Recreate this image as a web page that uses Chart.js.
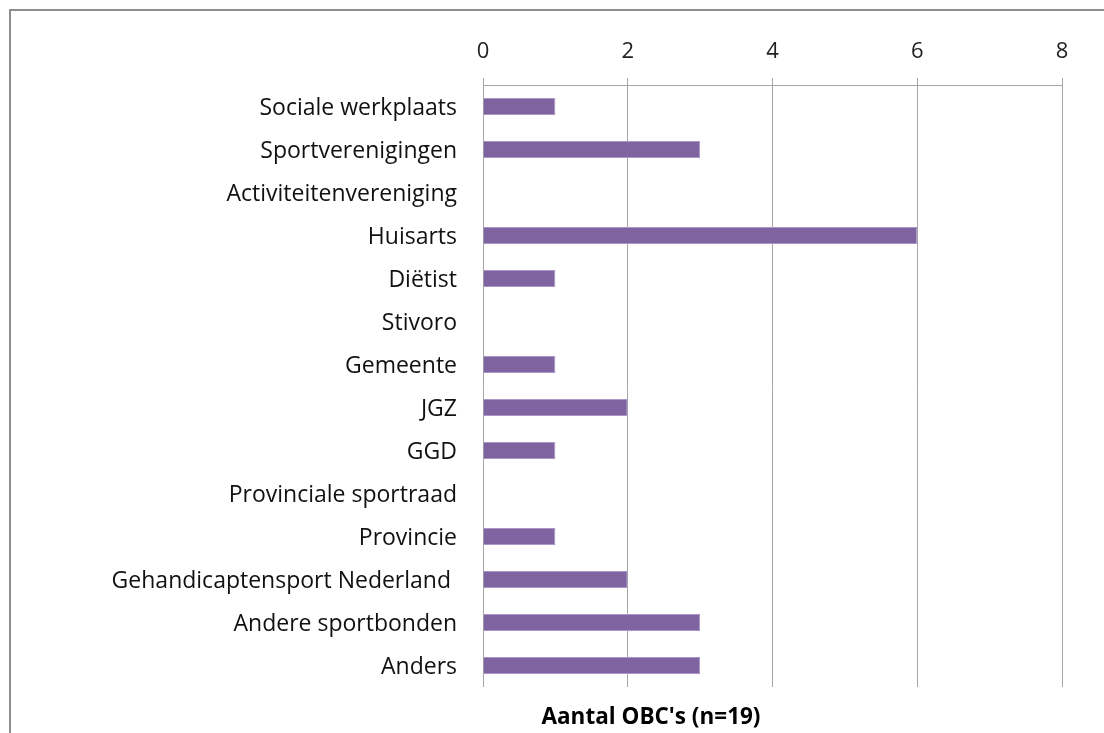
<!DOCTYPE html>
<html>
<head>
<meta charset="utf-8">
<script src="https://cdn.jsdelivr.net/npm/chart.js@4.4.0/dist/chart.umd.min.js"></script>
<style>
  html, body { margin: 0; padding: 0; background: #fff; }
  #wrap { position: relative; width: 1104px; height: 733px; overflow: hidden; }
  #frame {
    position: absolute; left: 9px; top: 9px; width: 1200px; height: 800px;
    border-left: 2px solid #8e8e8e; border-top: 2px solid #8e8e8e;
  }
  canvas { position: absolute; left: 0; top: 0; }
</style>
</head>
<body>
<div id="wrap">
  <div id="frame"></div>
  <canvas id="chart" width="1104" height="733"></canvas>
</div>
<script>
// categories top to bottom
const categories = [
    'Sociale werkplaats',
    'Sportverenigingen',
    'Activiteitenvereniging',
    'Huisarts',
    'Diëtist',
    'Stivoro',
    'Gemeente',
    'JGZ',
    'GGD',
    'Provinciale sportraad',
    'Provincie',
    'Gehandicaptensport Nederland ',
    'Andere sportbonden',
    'Anders',
];
const counts = [1, 3, 0, 6, 1, 0, 1, 2, 1, 0, 1, 2, 3, 3];
const xTicks = [0, 2, 4, 6, 8];
const axisTitle = "Aantal OBC's (n=19)";

const FONT = "'Open Sans', 'Noto Sans', sans-serif";
const GRID = '#a6a6a6';

// bold axis title under the plot, offset left like the original
const bottomTitle = {
    id: 'bottomTitle',
    afterDraw(chart) {
        const { ctx, chartArea } = chart;
        ctx.save();
        ctx.font = `bold 22.5px ${FONT}`;
        ctx.fillStyle = '#000';
        ctx.textAlign = 'center';
        ctx.textBaseline = 'middle';
        ctx.fillText(axisTitle, chartArea.left + 168, chartArea.bottom + 31);
        ctx.restore();
    },
};

new Chart(document.getElementById('chart').getContext('2d'), {
    type: 'bar',
    data: {
        labels: categories,
        datasets: [{
            data: counts,
            backgroundColor: '#8064a2',
            borderColor: '#a996c4',
            borderWidth: 1,
            categoryPercentage: 1,
            barPercentage: 0.4,
        }],
    },
    options: {
        indexAxis: 'y',
        responsive: false,
        animation: false,
        layout: { padding: { left: 0, top: 0, right: 42, bottom: 46 } },
        scales: {
            x: {
                position: 'top',
                min: 0,
                max: 8,
                afterBuildTicks: s => { s.ticks = xTicks.map(v => ({ value: v })); },
                afterFit: s => { s.height = 85; },
                grid: { color: GRID, lineWidth: 1, tickLength: 7, drawTicks: true },
                border: { display: true, color: GRID, width: 1 },
                ticks: { color: '#222', padding: 13, font: { family: FONT, size: 22 } },
            },
            y: {
                afterFit: s => { s.width = 483; },
                grid: { display: false, drawTicks: false },
                border: { display: false },
                ticks: { color: '#111', padding: 26, labelOffset: 2, font: { family: FONT, size: 23 } },
            },
        },
        plugins: {
            legend: { display: false },
            tooltip: { enabled: false },
        },
    },
    plugins: [bottomTitle],
});
</script>
</body>
</html>
